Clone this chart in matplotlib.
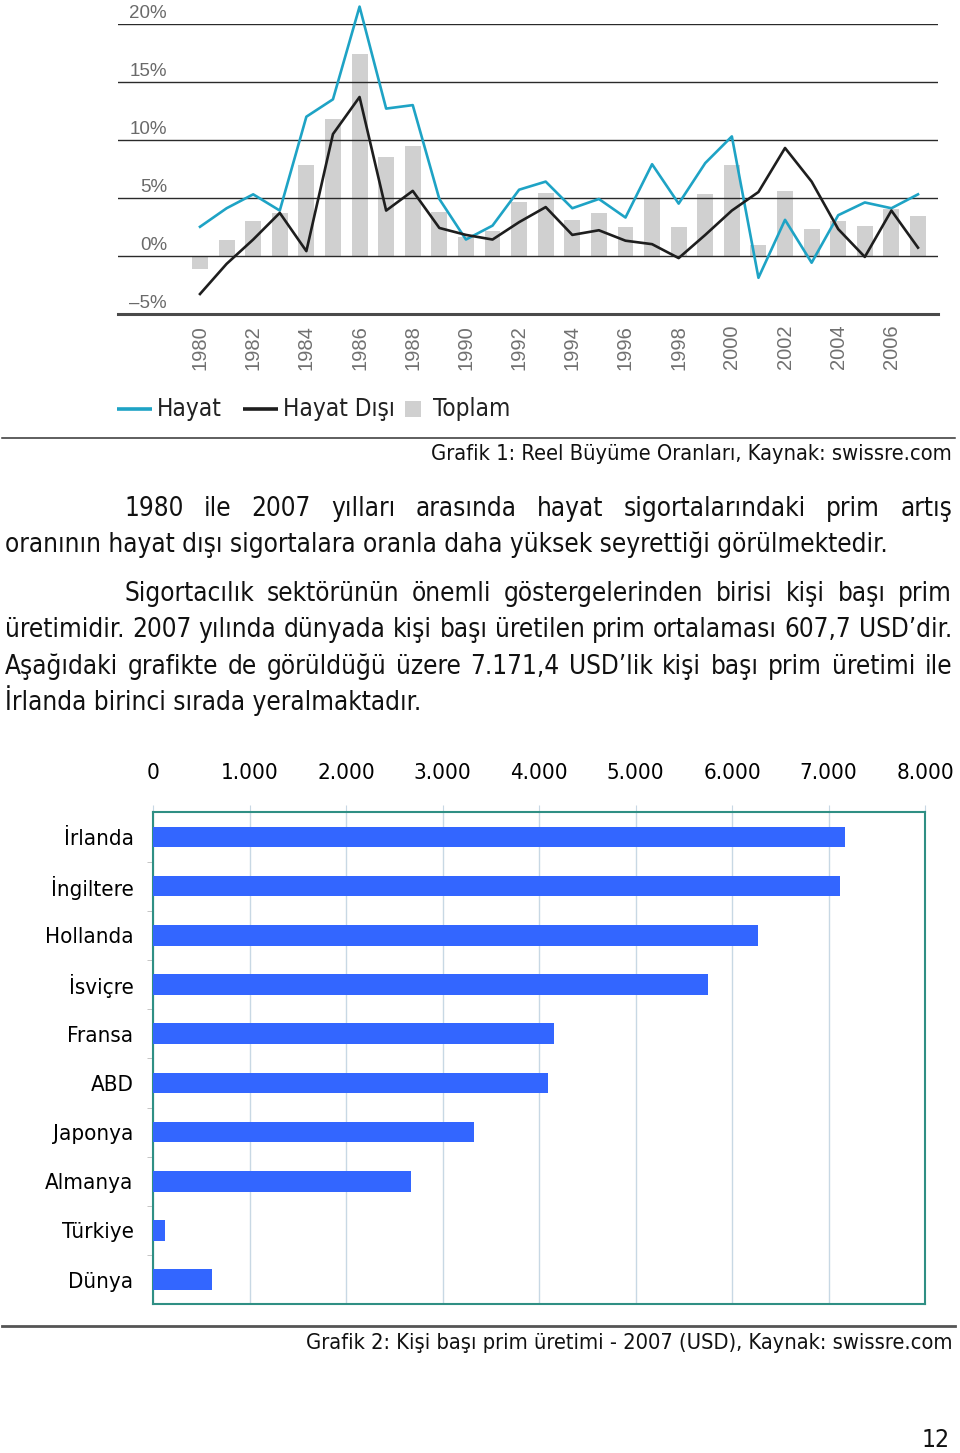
import matplotlib
matplotlib.use("Agg")
import matplotlib.pyplot as plt
from matplotlib.transforms import offset_copy
from matplotlib.patches import Rectangle
import numpy as np

# ---------------- data ----------------
years = list(range(1980, 2008))
hayat = [2.5, 4.1, 5.3, 3.9, 12.0, 13.5, 21.5, 12.7, 13.0, 4.9, 1.4, 2.6, 5.7, 6.4,
         4.1, 4.9, 3.3, 7.9, 4.5, 8.0, 10.3, -1.9, 3.1, -0.6, 3.5, 4.6, 4.1, 5.3]
hayat_disi = [-3.3, -0.7, 1.4, 3.7, 0.4, 10.5, 13.7, 3.9, 5.6, 2.4, 1.8, 1.4, 2.9, 4.2,
              1.8, 2.2, 1.3, 1.0, -0.2, 1.8, 3.9, 5.5, 9.3, 6.4, 2.3, -0.1, 3.9, 0.7]
toplam = [-1.1, 1.35, 3.0, 3.65, 7.8, 11.8, 17.4, 8.5, 9.45, 3.8, 1.6, 2.1, 4.6, 5.4,
          3.1, 3.65, 2.5, 4.9, 2.5, 5.3, 7.8, 0.95, 5.6, 2.3, 3.0, 2.6, 4.0, 3.4]
ytick_vals = [20, 15, 10, 5, 0, -5]
ytick_labels = ["20%", "15%", "10%", "5%", "0%", "\u20135%"]
xtick_years = list(range(1980, 2007, 2))
legend_labels = ["Hayat", "Hayat Dışı", "Toplam"]

countries = ["İrlanda", "İngiltere", "Hollanda", "İsviçre", "Fransa", "ABD",
             "Japonya", "Almanya", "Türkiye", "Dünya"]
prim = [7171.4, 7120, 6270, 5750, 4160, 4090, 3330, 2670, 120, 607.7]
bar_ticks = [0, 1000, 2000, 3000, 4000, 5000, 6000, 7000, 8000]
bar_tick_labels = ["0", "1.000", "2.000", "3.000", "4.000", "5.000", "6.000", "7.000", "8.000"]

caption1 = "Grafik 1: Reel Büyüme Oranları, Kaynak: swissre.com"
caption2 = "Grafik 2: Kişi başı prim üretimi - 2007 (USD), Kaynak: swissre.com"
para_lines = [
    ("1980 ile 2007 yılları arasında hayat sigortalarındaki prim artış", 124, True),
    ("oranının hayat dışı sigortalara oranla daha yüksek seyrettiği görülmektedir.", 5, False),
    ("Sigortacılık sektörünün önemli göstergelerinden birisi kişi başı prim", 124, True),
    ("üretimidir. 2007 yılında dünyada kişi başı üretilen prim ortalaması 607,7 USD’dir.", 5, True),
    ("Aşağıdaki grafikte de görüldüğü üzere 7.171,4 USD’lik kişi başı prim üretimi ile", 5, True),
    ("İrlanda birinci sırada yeralmaktadır.", 5, False),
]
page_number = "12"

# ---------------- figure ----------------
W, H = 960, 1453
fig = plt.figure(figsize=(W / 100, H / 100), dpi=100)
fig.patch.set_facecolor("white")

def fr(x0, y0, x1, y1):
    return [x0 / W, 1 - y1 / H, (x1 - x0) / W, (y1 - y0) / H]

BODY = dict(family=["DejaVu Sans"], stretch="condensed")
ov = fig.add_axes([0, 0, 1, 1])
ov.set_xlim(0, W)
ov.set_ylim(H, 0)
ov.axis("off")
renderer = fig.canvas.get_renderer()

def fit_size(text, width, **kw):
    t = ov.text(0, 0, text, fontsize=10, **kw)
    w = t.get_window_extent(renderer).width
    t.remove()
    return 10 * width / w

# ---------------- chart 1 ----------------
ppy = (918 - 200) / 27.0
ax1 = fig.add_axes(fr(118, 24, 938, 313.7))
ax1.set_xlim(1980 - (200 - 118) / ppy, 2007 + (938 - 918) / ppy)
ax1.set_ylim(-5, 20)
for s in ax1.spines.values():
    s.set_visible(False)
ax1.bar(years, toplam, width=0.6, color="#d0d0d0", zorder=1)
ax1.plot(years, hayat, color="#1ea3c5", lw=1.9, zorder=4, clip_on=False)
ax1.plot(years, hayat_disi, color="#1e1e1e", lw=1.9, zorder=4, clip_on=False)
ax1.set_yticks(ytick_vals[:-1])
ax1.grid(axis="y", color="#2a2a2a", lw=1.0, zorder=2.5)
ax1.set_axisbelow(False)
ax1.axhline(-5, color="#4a4a4a", lw=2.2, clip_on=False, zorder=3)
ax1.tick_params(axis="y", left=False, labelleft=False)
lab_tr = offset_copy(ax1.get_yaxis_transform(), fig=fig, x=0, y=5.5, units="dots")
for v, lab in zip(ytick_vals, ytick_labels):
    ax1.text((167 - 118) / 820, v, lab, transform=lab_tr, ha="right", va="baseline",
             fontsize=13.5, color="#6a6a6a", family="Liberation Sans")
ax1.set_xticks(xtick_years)
ax1.set_xticklabels([str(y) for y in xtick_years], rotation=90, fontsize=14.5,
                    color="#707070", family="Liberation Sans")
ax1.tick_params(axis="x", length=0, pad=8)

# legend
leg_size = fit_size(legend_labels[1], 112, **BODY)
ov.plot([117, 152], [409, 409], color="#1ea3c5", lw=2.6, solid_capstyle="butt")
ov.text(157, 409, legend_labels[0], fontsize=leg_size, color="#222222", va="center", **BODY)
ov.plot([243, 278], [409, 409], color="#1e1e1e", lw=2.6, solid_capstyle="butt")
ov.text(283, 409, legend_labels[1], fontsize=leg_size, color="#222222", va="center", **BODY)
ov.add_patch(Rectangle((405, 401), 16, 16, color="#d0d0d0", lw=0))
ov.text(433, 409, legend_labels[2], fontsize=leg_size, color="#222222", va="center", **BODY)

ov.plot([2, 955], [437.5, 437.5], color="#333333", lw=1.1)
cap_size = fit_size(caption2, 647, **BODY)
ov.text(952, 460, caption1, fontsize=cap_size, color="#111111", ha="right", va="baseline", **BODY)

# ---------------- paragraph ----------------
body_size = fit_size(para_lines[1][0], 887, **BODY)
baselines = [516, 552, 601, 637, 674, 710]
for (line, x0, just), yb in zip(para_lines, baselines):
    if not just:
        ov.text(x0, yb, line, fontsize=body_size, color="#111111", va="baseline", **BODY)
        continue
    words = line.split(" ")
    ts = [ov.text(0, yb, w, fontsize=body_size, color="#111111", va="baseline", **BODY)
          for w in words]
    ws = [t.get_window_extent(renderer).width for t in ts]
    gap = (952 - x0 - sum(ws)) / (len(words) - 1)
    x = x0
    for t, w in zip(ts, ws):
        t.set_x(x)
        x += w + gap

# ---------------- chart 2 ----------------
ax2 = fig.add_axes(fr(153, 812.3, 925, 1304.3))
ypos = np.arange(len(countries))
ax2.barh(ypos, prim, height=0.42, color="#3366ff", zorder=3)
ax2.set_xlim(0, 8000)
ax2.set_ylim(len(countries) - 0.5, -0.5)
ax2.xaxis.tick_top()
ax2.set_xticks(bar_ticks)
lab2_size = fit_size("Hollanda", 89, **BODY)
ax2.set_xticklabels(bar_tick_labels, fontsize=lab2_size, **BODY)
ax2.tick_params(axis="x", top=True, length=5, color="#c8d8e4", pad=16)
ax2.grid(axis="x", color="#c8d8e4", lw=1.0)
ax2.set_axisbelow(True)
ax2.set_yticks(ypos)
ax2.set_yticklabels(countries, fontsize=lab2_size, **BODY)
ax2.tick_params(axis="y", which="major", length=0, pad=14)
ax2.set_yticks(np.arange(0.5, len(countries) - 0.5, 1), minor=True)
ax2.tick_params(axis="y", which="minor", length=4, color="#bbbbbb")
for s in ax2.spines.values():
    s.set_color("#2f8f84")
    s.set_linewidth(1.5)

ov.plot([2, 955], [1326, 1326], color="#555555", lw=2.0)
ov.text(952, 1349, caption2, fontsize=cap_size, color="#111111", ha="right", va="baseline", **BODY)
pg_size = fit_size(page_number, 28, **BODY)
ov.text(950, 1447, page_number, fontsize=pg_size, color="#111111", ha="right", va="baseline", **BODY)

fig.savefig("out.png", dpi=100, facecolor="white")
